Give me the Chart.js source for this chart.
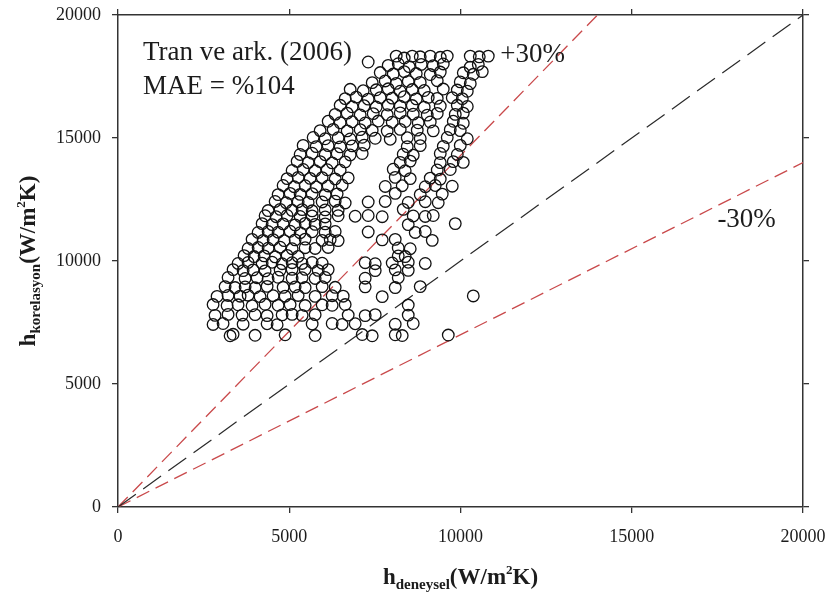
<!DOCTYPE html>
<html lang="tr">
<head>
<meta charset="utf-8">
<title>Tran ve ark. (2006)</title>
<script src="https://cdn.jsdelivr.net/npm/chart.js@4.4.1/dist/chart.umd.min.js"></script>
<style>
  html, body { margin: 0; padding: 0; background: #fff; }
  #grafik { display: block; }
</style>
</head>
<body>
<canvas id="grafik" width="830" height="601"></canvas>
<script>
// eksen değerleri (W/m2K)
const eksenTikleri = [0, 5000, 10000, 15000, 20000];

// referans çizgileri: y = x, +%30, -%30 (başlangıç ve bitiş noktaları)
const esitHat = [[0, 0], [20000, 20000]];
const arti30Hat = [[0, 0], [14000, 20000]];
const eksi30Hat = [[0, 0], [20000, 14000]];

// [h_deneysel, h_korelasyon] ölçüm noktaları
const noktalar = [
  [8123,18330],[8357,18250],[8591,18330],[8824,18300],[9117,18330],[9409,18280],[9613,18330],[10285,18330],[10548,18300],[10811,18330],
  [7305,18090],
  [7889,17950],[8182,18020],[8503,17900],[8854,17990],[9204,17940],[9497,18010],[10285,17880],[10519,17990],
  [7656,17660],[8036,17600],[8357,17700],[8708,17620],[9117,17580],[9409,17680],[10081,17650],[10373,17590],[10636,17700],
  [7422,17250],[7802,17320],[8123,17220],[8474,17300],[8824,17260],[9321,17330],[9993,17280],[10285,17210],
  [6779,16980],[7159,16920],[7539,16960],[7889,17000],[8240,16900],[8591,16970],[8941,16930],[9497,16990],[9906,16950],[10198,16900],
  [6633,16600],[6954,16660],[7305,16580],[7656,16640],[8006,16620],[8357,16680],[8708,16590],[9058,16650],[9321,16610],[9759,16640],[10052,16600],
  [6487,16330],[6837,16270],[7188,16310],[7539,16260],[7889,16340],[8240,16290],[8591,16320],[8941,16250],[9409,16300],[9906,16330],[10198,16280],
  [6341,15960],[6691,16010],[7071,15940],[7451,15990],[7860,15950],[8240,16020],[8620,15970],[9029,15930],[9321,16000],[9847,15960],[10081,16010],
  [6136,15680],[6487,15620],[6837,15660],[7217,15610],[7597,15690],[8006,15640],[8386,15670],[8766,15620],[9117,15650],[9789,15680],[10081,15600],
  [5902,15300],[6282,15350],[6691,15290],[7071,15340],[7422,15310],[7860,15280],[8240,15350],[8737,15320],[9204,15290],[9701,15340],[9993,15300],
  [5698,15020],[6049,14970],[6428,15010],[6779,14960],[7130,15030],[7510,14990],[7948,14950],[8445,15010],[8824,14980],[9613,15020],[10198,14970],
  [5406,14700],[5786,14650],[6136,14690],[6487,14640],[6837,14680],[7188,14710],[8445,14650],[8824,14690],[9497,14660],[9993,14700],
  [5318,14330],[5669,14380],[6049,14320],[6399,14360],[6779,14310],[7130,14370],[8328,14340],[8620,14300],[9409,14370],[9906,14330],
  [5230,14050],[5552,14000],[5902,14040],[6253,13990],[6633,14030],[8240,14010],[8532,14060],[9409,14000],[9789,14040],[10081,14010],
  [5084,13680],[5406,13720],[5756,13670],[6107,13710],[6487,13690],[8036,13730],[8386,13670],[9321,13700],[9701,13720],
  [4938,13350],[5260,13400],[5610,13360],[5961,13390],[6341,13340],[6721,13380],[8094,13400],[8532,13350],[9117,13370],[9409,13330],
  [4821,13070],[5143,13020],[5464,13060],[5786,13010],[6136,13050],[6545,13080],[7802,13030],[8298,13060],[8971,13020],[9263,13070],[9759,13040],
  [4675,12700],[5026,12750],[5318,12710],[5669,12740],[6049,12690],[6399,12730],[8094,12750],[8824,12700],[9467,12720],
  [4588,12420],[4909,12370],[5260,12410],[5552,12380],[5961,12400],[6341,12430],[6633,12360],[7305,12400],[7802,12420],[8474,12380],[8971,12410],[9350,12370],
  [4383,12050],[4734,12100],[5084,12060],[5376,12090],[5669,12040],[6049,12080],[6428,12060],[8328,12100],
  [4295,11840],[4617,11800],[4938,11850],[5318,11810],[5669,11830],[6049,11790],[6428,11840],[6925,11820],[7305,11850],[7714,11800],[8620,11830],[8971,11810],[9204,11850],
  [4208,11520],[4500,11480],[4821,11510],[5172,11470],[5464,11530],[5756,11490],[6049,11510],[8474,11480],[9847,11520],
  [4091,11160],[4383,11200],[4675,11170],[5026,11210],[5318,11150],[5669,11190],[6049,11170],[6341,11200],[7305,11180],[8678,11160],[8971,11200],
  [3915,10880],[4237,10840],[4529,10870],[4851,10830],[5172,10860],[5464,10890],[5961,10840],[6195,10870],[6428,10830],[7714,10860],[8094,10880],[9175,10840],
  [3799,10510],[4091,10550],[4383,10520],[4734,10560],[5084,10500],[5464,10540],[5756,10510],[6136,10550],[8182,10530],[8532,10500],
  [3682,10220],[3974,10180],[4266,10210],[4588,10170],[4938,10230],[5260,10190],[8182,10210],[8386,10180],
  [3506,9900],[3799,9940],[4208,9910],[4500,9950],[4792,9890],[5084,9930],[5376,9900],[5669,9940],[5961,9910],[7217,9930],[7510,9890],[8006,9920],[8474,9950],[8971,9900],
  [3360,9650],[3653,9610],[3945,9640],[4295,9600],[4734,9630],[5084,9660],[5464,9660],[5844,9620],[6136,9650],[7510,9610],[8094,9640],[8474,9620],
  [3214,9330],[3711,9290],[4062,9320],[4383,9280],[4675,9340],[5084,9300],[5376,9320],[5756,9290],[6049,9330],[7217,9300],[8182,9320],
  [3127,8960],[3419,8920],[3711,8950],[4003,8910],[4354,8970],[4821,8930],[5172,8950],[5464,8920],[5961,8960],[6341,8930],[7217,8950],[8094,8920],[8824,8960],
  [2893,8560],[3214,8600],[3565,8570],[3799,8610],[4149,8550],[4529,8590],[4880,8570],[5260,8600],[5756,8560],[6253,8590],[6575,8570],[7714,8550],[10373,8580],
  [2776,8230],[3185,8190],[3506,8220],[3915,8180],[4295,8240],[4675,8200],[5026,8230],[5464,8190],[5961,8220],[6253,8200],[6633,8230],[8474,8210],
  [2834,7790],[3214,7830],[3623,7800],[4003,7820],[4354,7780],[4792,7810],[5084,7830],[5376,7790],[5756,7820],[6721,7800],[7217,7780],[7510,7820],[8474,7800],
  [2776,7420],[3068,7460],[3653,7430],[4354,7450],[4646,7410],[5669,7440],[6253,7460],[6545,7420],[6925,7450],[8094,7430],[8620,7460],
  [3273,6960],[3360,7020],[4003,6980],[4880,7000],[5756,6970],[7130,7010],[7422,6960],[8094,7000],[8298,6970],[9643,6990]
];

const SERIF = "'Liberation Serif', 'Times New Roman', serif";
const MUREKKEP = '#1c1c1c';

const xy = arr => arr.map(([x, y]) => ({ x, y }));

// grafik içi notlar (veri koordinatlarında)
const notlar = [
  { metin: 'Tran ve ark. (2006)', x: 730, y: 18170 },
  { metin: 'MAE = %104', x: 730, y: 16800 },
  { metin: '+30%', x: 11160, y: 18090 },
  { metin: '-30%', x: 17500, y: 11380 }
];

// alt/üst simgeli eksen başlıkları
const xBaslik = [
  { metin: 'h', boyut: 23, kayma: 0 },
  { metin: 'deneysel', boyut: 15, kayma: 5 },
  { metin: '(W/m', boyut: 23, kayma: 0 },
  { metin: '2', boyut: 13, kayma: -10 },
  { metin: 'K)', boyut: 23, kayma: 0 }
];
const yBaslik = [
  { metin: 'h', boyut: 23, kayma: 0 },
  { metin: 'korelasyon', boyut: 15, kayma: 5 },
  { metin: '(W/m', boyut: 23, kayma: 0 },
  { metin: '2', boyut: 13, kayma: -10 },
  { metin: 'K)', boyut: 23, kayma: 0 }
];

function parcaliYaz(ctx, parcalar, x, y, aci) {
  let toplam = 0;
  const genislik = parcalar.map(p => {
    ctx.font = `bold ${p.boyut}px ${SERIF}`;
    const w = ctx.measureText(p.metin).width;
    toplam += w;
    return w;
  });
  ctx.save();
  ctx.translate(x, y);
  ctx.rotate(aci);
  ctx.fillStyle = MUREKKEP;
  ctx.textBaseline = 'alphabetic';
  ctx.textAlign = 'left';
  let cx = -toplam / 2;
  parcalar.forEach((p, i) => {
    ctx.font = `bold ${p.boyut}px ${SERIF}`;
    ctx.fillText(p.metin, cx, p.kayma);
    cx += genislik[i];
  });
  ctx.restore();
}

const yaziEklentisi = {
  id: 'yazilar',
  afterDraw(chart) {
    const { ctx, chartArea, scales } = chart;
    ctx.save();
    ctx.fillStyle = MUREKKEP;
    ctx.font = `27px ${SERIF}`;
    ctx.textBaseline = 'alphabetic';
    notlar.forEach(n => {
      ctx.fillText(n.metin, scales.x.getPixelForValue(n.x), scales.y.getPixelForValue(n.y));
    });
    ctx.restore();

    const orta = (chartArea.left + chartArea.right) / 2;
    const dikOrta = (chartArea.top + chartArea.bottom) / 2;
    parcaliYaz(ctx, xBaslik, orta, chartArea.bottom + 77, 0);
    parcaliYaz(ctx, yBaslik, 35, dikOrta, -Math.PI / 2);
  }
};

const ortakIzgara = {
  drawOnChartArea: false,
  drawTicks: true,
  tickLength: 6,
  color: '#333',
  lineWidth: 1.3
};
const ortakKenar = { display: true, color: '#333', width: 1.5 };

function eksen(konum, boyut, etiketli) {
  const yatay = konum === 'top' || konum === 'bottom';
  return {
    type: 'linear',
    position: konum,
    min: 0,
    max: 20000,
    afterBuildTicks: s => { s.ticks = eksenTikleri.map(v => ({ value: v })); },
    afterFit: s => {
      if (yatay) s.height = boyut; else s.width = boyut;
      // uç etiketlerin taşması çizim alanını daraltmasın
      s.paddingLeft = s.paddingRight = s.paddingTop = s.paddingBottom = 0;
    },
    grid: ortakIzgara,
    border: ortakKenar,
    ticks: {
      display: etiketli,
      color: MUREKKEP,
      font: { family: SERIF, size: 18 },
      padding: yatay ? 13 : 11,
      callback: v => String(v)
    }
  };
}

new Chart(document.getElementById('grafik'), {
  type: 'scatter',
  data: {
    datasets: [
      {
        label: 'Tran ve ark. (2006)',
        data: xy(noktalar),
        pointStyle: 'circle',
        pointRadius: 5.8,
        pointBorderWidth: 1.3,
        pointBorderColor: '#111',
        pointBackgroundColor: 'rgba(255,255,255,0)',
        showLine: false,
        order: 0
      },
      {
        label: 'y = x',
        data: xy(esitHat),
        showLine: true,
        pointRadius: 0,
        borderColor: '#2a2a2a',
        borderWidth: 1.2,
        borderDash: [22, 9],
        order: 1
      },
      {
        label: '+30%',
        data: xy(arti30Hat),
        showLine: true,
        pointRadius: 0,
        borderColor: '#c9494b',
        borderWidth: 1.3,
        borderDash: [14, 7],
        order: 1
      },
      {
        label: '-30%',
        data: xy(eksi30Hat),
        showLine: true,
        pointRadius: 0,
        borderColor: '#c9494b',
        borderWidth: 1.3,
        borderDash: [14, 7],
        order: 1
      }
    ]
  },
  options: {
    responsive: false,
    animation: false,
    devicePixelRatio: 1,
    layout: { padding: 0 },
    plugins: {
      legend: { display: false },
      tooltip: { enabled: false }
    },
    scales: {
      x: eksen('bottom', 94, true),
      y: eksen('left', 118, true),
      xUst: eksen('top', 15, false),
      ySag: eksen('right', 27, false)
    }
  },
  plugins: [yaziEklentisi]
});
</script>
</body>
</html>
